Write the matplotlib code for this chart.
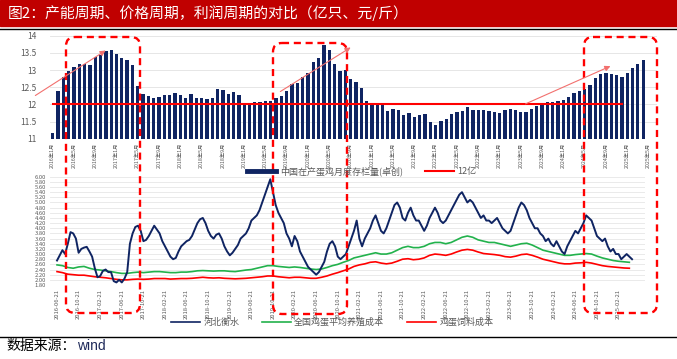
import matplotlib
matplotlib.use("Agg")
import matplotlib.pyplot as plt
import matplotlib.transforms as mtrans
from matplotlib.patches import FancyBboxPatch, FancyArrowPatch, Rectangle
from matplotlib.lines import Line2D
import numpy as np

plt.rcParams['font.family'] = ['Noto Sans CJK SC', 'DejaVu Sans']

W, H = 677, 359

# 中国在产蛋鸡月度存栏量(卓创), 亿只, 2016年1月起 按月
stock = [11.16, 12.40, 12.81, 12.96, 13.10, 13.17, 13.19, 13.16, 13.37, 13.44,
         13.54, 13.58, 13.47, 13.35, 13.29, 13.15, 12.53, 12.30, 12.25, 12.19,
         12.21, 12.26, 12.28, 12.33, 12.28, 12.19, 12.29, 12.20, 12.20, 12.15,
         12.18, 12.45, 12.42, 12.30, 12.35, 12.28, 12.01, 12.05, 12.07, 12.07,
         12.10, 12.09, 12.19, 12.23, 12.40, 12.59, 12.63, 12.79, 12.90, 13.23,
         13.35, 13.72, 13.58, 13.17, 12.98, 13.00, 12.75, 12.65, 12.48, 12.11,
         11.99, 12.05, 11.97, 11.82, 11.87, 11.83, 11.70, 11.76, 11.64, 11.68,
         11.71, 11.49, 11.39, 11.52, 11.56, 11.72, 11.78, 11.81, 11.93, 11.83,
         11.83, 11.84, 11.81, 11.79, 11.76, 11.84, 11.87, 11.85, 11.79, 11.78,
         11.86, 11.95, 12.03, 12.07, 12.07, 12.09, 12.12, 12.22, 12.32, 12.40,
         12.44, 12.55, 12.77, 12.88, 12.90, 12.87, 12.85, 12.80, 12.90, 13.07,
         13.17, 13.29]
level = 12.0          # 12亿
level_months = 108

# 河北衡水蛋价 (元/斤), 2016-06 起 半月
hengshui = [2.75, 2.95, 3.15, 3.00, 3.40, 3.85, 3.80, 3.60, 3.05, 3.20,
            3.25, 3.28, 3.10, 2.90,
            2.45, 2.10, 2.15, 2.35, 2.40, 2.30, 2.30, 1.95, 1.90, 2.00,
            1.90, 2.05, 2.30, 3.40, 3.80, 4.05, 4.10, 3.90, 3.50, 3.55,
            3.70, 3.90, 4.10, 3.95,
            3.80, 3.50, 3.30, 3.10, 2.90, 2.80, 2.85, 3.10, 3.30, 3.40,
            3.50, 3.55, 3.70, 3.95, 4.20, 4.35, 4.40, 4.20, 3.90, 3.70,
            3.60, 3.75, 3.80, 3.60,
            3.30, 3.10, 2.95, 3.05, 3.20, 3.35, 3.60, 3.70, 3.80, 4.00,
            4.30, 4.40, 4.50, 4.70, 5.00, 5.30, 5.60, 5.90, 5.40, 4.90,
            4.60, 4.40, 4.20, 3.80,
            3.60, 3.30, 3.70, 3.50, 3.10, 2.90, 2.70, 2.50, 2.40, 2.30,
            2.20, 2.30, 2.50, 2.70, 3.10, 3.40, 3.50, 3.30, 2.90, 2.80,
            2.90, 3.00, 3.30, 3.60,
            3.90, 4.30, 3.60, 3.30, 3.60, 3.80, 4.00, 4.30, 4.50, 4.20,
            3.90, 3.80, 4.00, 4.30, 4.60, 4.90, 5.00, 4.80, 4.40, 4.30,
            4.60, 4.80, 4.50, 4.30,
            4.30, 4.10, 3.90, 4.10, 4.40, 4.60, 4.80, 4.60, 4.30, 4.20,
            4.30, 4.50, 4.70, 4.90, 5.10, 5.30, 5.40, 5.20, 5.00, 5.10,
            5.00, 4.80, 4.60, 4.40,
            4.50, 4.30, 4.30, 4.20, 4.30, 4.40, 4.20, 4.00, 3.90, 3.80,
            3.90, 4.20, 4.50, 4.80, 5.00, 4.90, 4.70, 4.40, 4.20, 4.00,
            4.00, 3.80, 3.70, 3.50,
            3.60, 3.40, 3.30, 3.50, 3.30, 3.10, 3.00, 3.30, 3.50, 3.70,
            3.90, 3.80, 4.00, 4.20, 4.50, 4.40, 4.30, 4.00, 3.70, 3.60,
            3.50, 3.60, 3.30, 3.10,
            3.20, 3.00, 3.00, 2.80, 2.90, 3.00, 2.90, 2.80]

# 全国鸡蛋平均养殖成本 (元/斤), 2016-06 起 按月
avg_cost = [2.58, 2.55, 2.48, 2.45, 2.50, 2.52, 2.45,
            2.40, 2.38, 2.35, 2.32, 2.28, 2.25, 2.25, 2.28, 2.30, 2.28, 2.30, 2.32,
            2.32, 2.30, 2.28, 2.28, 2.30, 2.30, 2.32, 2.35, 2.36, 2.35, 2.34, 2.35,
            2.35, 2.33, 2.32, 2.35, 2.38, 2.40, 2.45, 2.50, 2.55, 2.55, 2.52, 2.50,
            2.48, 2.50, 2.48, 2.45, 2.42, 2.40, 2.42, 2.48, 2.55, 2.60, 2.68, 2.75,
            2.85, 2.90, 2.95, 3.00, 3.05, 3.00, 3.00, 3.05, 3.15, 3.25, 3.30, 3.25,
            3.25, 3.30, 3.40, 3.45, 3.45, 3.40, 3.45, 3.55, 3.65, 3.70, 3.65, 3.55,
            3.50, 3.45, 3.45, 3.40, 3.35, 3.30, 3.35, 3.40, 3.42, 3.35, 3.25, 3.15,
            3.10, 3.05, 3.00, 2.95, 2.95, 2.98, 3.00, 3.02, 3.00, 2.92, 2.85, 2.80,
            2.75, 2.72, 2.70, 2.68]

# 鸡蛋饲料成本 (元/斤), 2016-06 起 按月
feed_cost = [2.32, 2.28, 2.22, 2.20, 2.18, 2.18, 2.15,
             2.12, 2.10, 2.08, 2.05, 2.02, 2.00, 2.00, 2.02, 2.03, 2.02, 2.03, 2.05,
             2.05, 2.05, 2.03, 2.04, 2.05, 2.05, 2.06, 2.08, 2.10, 2.08, 2.07, 2.08,
             2.06, 2.05, 2.04, 2.05, 2.06, 2.08, 2.10, 2.12, 2.15, 2.15, 2.12, 2.10,
             2.08, 2.10, 2.10, 2.08, 2.06, 2.06, 2.10, 2.15, 2.22, 2.28, 2.35, 2.42,
             2.52, 2.58, 2.62, 2.68, 2.70, 2.65, 2.62, 2.65, 2.72, 2.80, 2.82, 2.78,
             2.80, 2.85, 2.95, 3.00, 2.98, 2.95, 3.00, 3.08, 3.15, 3.18, 3.15, 3.08,
             3.02, 3.00, 2.98, 2.95, 2.90, 2.88, 2.92, 2.98, 3.00, 2.95, 2.88, 2.80,
             2.75, 2.70, 2.65, 2.62, 2.62, 2.65, 2.66, 2.68, 2.65, 2.60, 2.55, 2.52,
             2.50, 2.48, 2.46, 2.45]

navy = '#0F2462'
grey = '#595959'
gridc = '#E6E6E6'

fig = plt.figure(figsize=(W / 100, H / 100), dpi=100)
# 像素坐标 (左上为原点)
T = mtrans.Affine2D().scale(1 / W, -1 / H).translate(0, 1) + fig.transFigure


def fbox(x0, y0, x1, y1):
    return [x0 / W, 1 - y1 / H, (x1 - x0) / W, (y1 - y0) / H]


# ---- 上图: 存栏 ----
ax1 = fig.add_axes(fbox(50, 35.7, 657, 138.7))
xb = np.arange(len(stock))
ax1.bar(xb, stock, width=0.62, color=navy, zorder=2)
ax1.plot(np.arange(level_months), [level] * level_months, color='#FF0000', lw=1.5,
         zorder=3)
ax1.set_ylim(11, 14)
ax1.set_xlim(-0.5, 113.6)
ax1.set_yticks(np.arange(11, 14.01, 0.5))
ax1.set_yticklabels(['11', '11.5', '12', '12.5', '13', '13.5', '14'])
ticks1 = list(range(0, 113, 4))
ax1.set_xticks(ticks1)
ax1.set_xticklabels([f'{2016 + i // 12}年{i % 12 + 1}月' for i in ticks1], rotation=90)
ax1.tick_params(axis='x', labelsize=3.8, colors=grey, length=0, pad=3)
ax1.tick_params(axis='y', labelsize=6, colors=grey, length=0, pad=10)
ax1.grid(axis='y', color=gridc, lw=0.7, zorder=0)
for s in ax1.spines.values():
    s.set_visible(False)
h1 = [Line2D([], [], color=navy, lw=3.5), Line2D([], [], color='#FF0000', lw=1.5)]
fig.legend(h1, ['中国在产蛋鸡月度存栏量(卓创)', '12亿'], loc='center',
           bbox_to_anchor=(362 / W, 1 - 171 / H), ncol=2, frameon=False,
           fontsize=6.5, labelcolor=grey, handlelength=3.2, columnspacing=2.5,
           handletextpad=0.4)

# ---- 下图: 蛋价与成本 ----
ax2 = fig.add_axes(fbox(50, 176.7, 645, 285))
xh = np.arange(len(hengshui)) * 0.5
xm = np.arange(len(avg_cost))
ax2.plot(xh, hengshui, color=navy, lw=1.4, zorder=3)
ax2.plot(xm, avg_cost, color='#22B24C', lw=1.2, zorder=2)
ax2.plot(xm, feed_cost, color='#FF0000', lw=1.2, zorder=2)
ax2.set_ylim(1.8, 6.0)
ax2.set_xlim(-1.3, 108.9)
ax2.set_yticks(np.arange(1.8, 6.001, 0.2))
ax2.set_yticklabels([f'{v:.2f}' for v in np.arange(1.8, 6.001, 0.2)])
ticks2 = list(range(0, 105, 4))
lab2 = []
for k in ticks2:
    m = 5 + k
    lab2.append(f'{2016 + m // 12}-{m % 12 + 1:02d}-21')
ax2.set_xticks(ticks2)
ax2.set_xticklabels(lab2, rotation=90)
ax2.tick_params(axis='x', labelsize=4.2, colors=grey, length=0, pad=3)
ax2.tick_params(axis='y', labelsize=4.2, colors=grey, length=0, pad=3)
ax2.grid(axis='y', color=gridc, lw=0.6, zorder=0)
for s in ax2.spines.values():
    s.set_visible(False)
h2 = [Line2D([], [], color=navy, lw=1.2), Line2D([], [], color='#22B24C', lw=1.2),
      Line2D([], [], color='#FF0000', lw=1.2)]
fig.legend(h2, ['河北衡水', '全国鸡蛋平均养殖成本', '鸡蛋饲料成本'], loc='center',
           bbox_to_anchor=(332 / W, 1 - 322 / H), ncol=3, frameon=False,
           fontsize=6.5, labelcolor=grey, handlelength=3.2, columnspacing=2.5,
           handletextpad=0.4)

# ---- 标题栏与来源 ----
fig.add_artist(Rectangle((0, 0), W, 26, transform=T, color='#C00000', zorder=1))
fig.text(8 / W, 1 - 13 / H, '图2：产能周期、价格周期，利润周期的对比（亿只、元/斤）',
         color='white', fontsize=10.7, va='center', ha='left')
fig.add_artist(Line2D([0, W], [28.5, 28.5], transform=T, color='black', lw=1))
fig.add_artist(Line2D([0, W], [336.5, 336.5], transform=T, color='black', lw=1))
fig.text(6 / W, 1 - 346 / H, '数据来源：', color='black', fontsize=10, va='center')
fig.text(77 / W, 1 - 346 / H, 'wind', color='#1F2A5A', fontsize=10, va='center',
         family=['Liberation Sans', 'DejaVu Sans'])

# ---- 周期框与箭头 ----
for x0, y0, x1, y1 in [(66, 37, 140, 313), (273, 43, 347, 314), (584, 37, 657, 313)]:
    fig.add_artist(FancyBboxPatch((x0, y0), x1 - x0, y1 - y0,
                                  boxstyle='round,pad=0,rounding_size=9',
                                  transform=T, fill=False, ec='#FF0000', lw=1.7,
                                  ls=(0, (3, 2)), zorder=5))
for (xa, ya), (xb_, yb) in [((33, 97), (108, 49)), ((278, 93), (353, 46)),
                            ((523, 105), (613, 65))]:
    fig.add_artist(FancyArrowPatch((xa, ya), (xb_, yb), transform=T,
                                   arrowstyle='-|>', mutation_scale=8,
                                   color='#F2706E', lw=0.8, zorder=5))

fig.savefig('out.png', dpi=100)
